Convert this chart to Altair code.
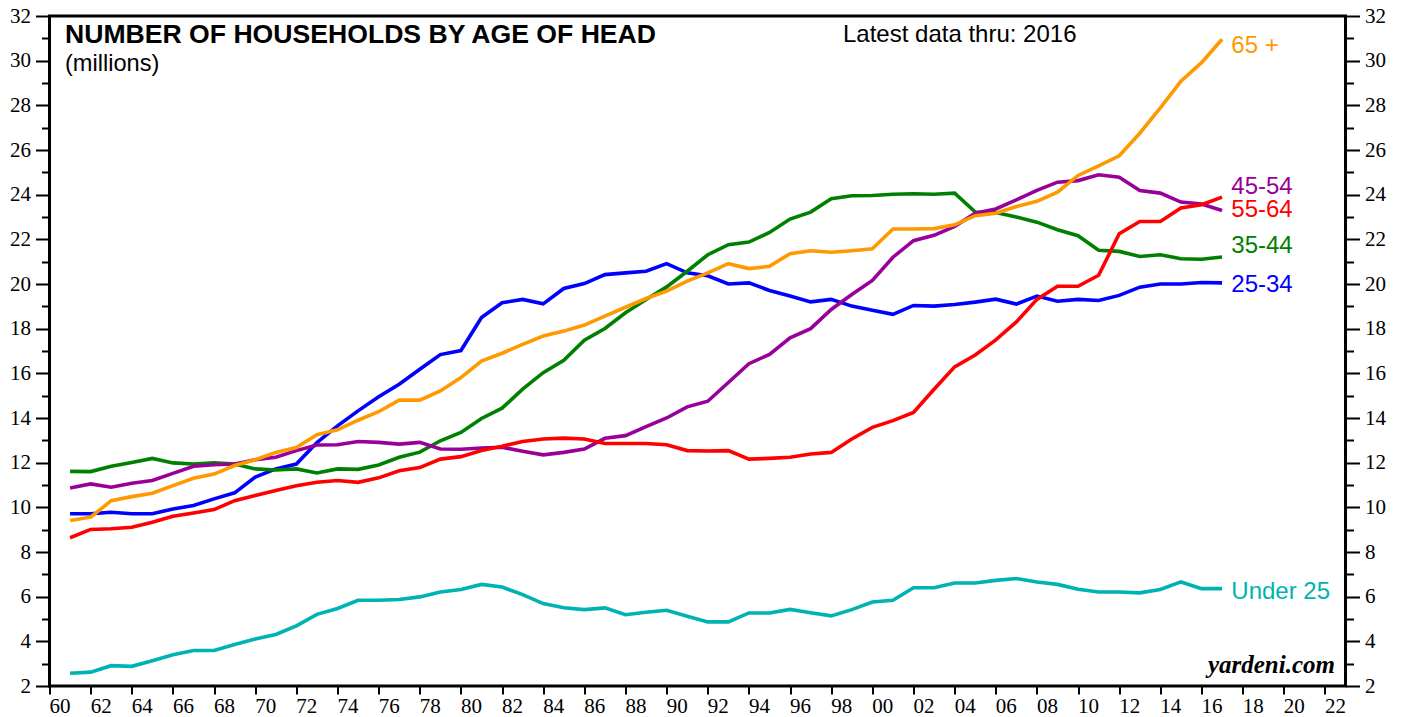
import altair as alt
import pandas as pd

years = list(range(1960, 2017))

under_25 = [2.57, 2.62, 2.91, 2.88, 3.13, 3.40, 3.59, 3.59, 3.86, 4.10,
            4.31, 4.69, 5.21, 5.47, 5.84, 5.84, 5.87, 5.99, 6.21, 6.32,
            6.55, 6.43, 6.09, 5.69, 5.50, 5.42, 5.50, 5.19, 5.30, 5.39,
            5.12, 4.87, 4.87, 5.27, 5.27, 5.43, 5.28, 5.14, 5.42, 5.76,
            5.84, 6.40, 6.40, 6.61, 6.61, 6.73, 6.81, 6.66, 6.55, 6.33,
            6.21, 6.21, 6.17, 6.32, 6.66, 6.36, 6.36]
age_25_34 = [9.71, 9.71, 9.78, 9.71, 9.71, 9.93, 10.08, 10.38, 10.65, 11.35,
             11.72, 11.94, 12.90, 13.65, 14.32, 14.95, 15.51, 16.18, 16.84, 17.02,
             18.50, 19.16, 19.31, 19.11, 19.80, 20.02, 20.42, 20.50, 20.57, 20.91,
             20.50, 20.37, 20.00, 20.05, 19.71, 19.46, 19.20, 19.31, 19.01, 18.82,
             18.64, 19.04, 19.01, 19.08, 19.19, 19.32, 19.10, 19.46, 19.23, 19.31,
             19.26, 19.49, 19.86, 20.00, 20.00, 20.07, 20.05]
age_35_44 = [11.61, 11.60, 11.84, 12.01, 12.19, 11.99, 11.94, 11.99, 11.94, 11.72,
             11.67, 11.72, 11.54, 11.72, 11.70, 11.90, 12.24, 12.47, 12.98, 13.35,
             13.98, 14.44, 15.29, 16.03, 16.58, 17.48, 18.01, 18.71, 19.31, 19.87,
             20.57, 21.31, 21.76, 21.88, 22.31, 22.91, 23.22, 23.82, 23.95, 23.96,
             24.02, 24.04, 24.02, 24.07, 23.22, 23.20, 23.00, 22.77, 22.43, 22.16,
             21.51, 21.46, 21.23, 21.31, 21.13, 21.11, 21.21]
age_45_54 = [10.87, 11.05, 10.90, 11.08, 11.20, 11.52, 11.84, 11.91, 11.94, 12.13,
             12.24, 12.54, 12.79, 12.80, 12.95, 12.91, 12.83, 12.91, 12.61, 12.60,
             12.66, 12.69, 12.51, 12.35, 12.46, 12.61, 13.09, 13.21, 13.61, 14.00,
             14.50, 14.75, 15.59, 16.43, 16.85, 17.59, 18.00, 18.86, 19.53, 20.16,
             21.20, 21.94, 22.18, 22.58, 23.17, 23.36, 23.77, 24.19, 24.56, 24.63,
             24.89, 24.78, 24.19, 24.07, 23.67, 23.58, 23.29]
age_55_64 = [8.64, 9.01, 9.04, 9.11, 9.33, 9.60, 9.75, 9.90, 10.30, 10.53,
             10.75, 10.97, 11.12, 11.20, 11.12, 11.32, 11.64, 11.78, 12.16, 12.27,
             12.54, 12.73, 12.95, 13.06, 13.10, 13.06, 12.86, 12.86, 12.86, 12.80,
             12.54, 12.52, 12.54, 12.16, 12.19, 12.24, 12.39, 12.46, 13.06, 13.58,
             13.88, 14.25, 15.29, 16.29, 16.82, 17.50, 18.30, 19.31, 19.90, 19.90,
             20.39, 22.25, 22.80, 22.80, 23.40, 23.55, 23.89]
age_65_plus = [9.41, 9.56, 10.30, 10.48, 10.63, 10.97, 11.30, 11.49, 11.87, 12.13,
               12.46, 12.68, 13.25, 13.47, 13.90, 14.28, 14.80, 14.80, 15.21, 15.81,
               16.55, 16.90, 17.30, 17.67, 17.89, 18.16, 18.56, 18.96, 19.35, 19.68,
               20.13, 20.50, 20.91, 20.69, 20.79, 21.36, 21.49, 21.42, 21.49, 21.58,
               22.46, 22.46, 22.48, 22.65, 23.06, 23.17, 23.47, 23.70, 24.11, 24.86,
               25.29, 25.74, 26.75, 27.89, 29.08, 29.91, 30.96]

series_names = ["Under 25", "25-34", "35-44", "45-54", "55-64", "65 +"]
series_values = [under_25, age_25_34, age_35_44, age_45_54, age_55_64, age_65_plus]
series_colors = ["#00B3B3", "#0000FF", "#008000", "#990099", "#FF0000", "#FF9900"]
label_y = [6.2, 19.95, 21.69, 24.33, 23.3, 30.66]
label_x = [2017.45] * 6

title_text = ["NUMBER OF HOUSEHOLDS BY AGE OF HEAD"]
unit_text = ["(millions)"]
latest_text = ["Latest data thru: 2016"]
source_text = ["yardeni.com"]

rows = []
for name, vals in zip(series_names, series_values):
    for yr, v in zip(years, vals):
        rows.append({"series": name, "pos": yr + 1, "value": v})
df = pd.DataFrame(rows)
lab_df = pd.DataFrame({"series": series_names, "lx": label_x, "ly": label_y})

x_scale = alt.Scale(domain=[1960, 2023], nice=False, zero=False)
y_scale = alt.Scale(domain=[2, 32], nice=False, zero=False)
color_scale = alt.Scale(domain=series_names, range=series_colors)

x_axis = alt.Axis(
    values=list(range(1960, 2024)),
    labelExpr="datum.value % 2 == 0 && datum.value < 2023 ? format(datum.value % 100, '02d') : ''",
    tickSize=8, labelOffset=10, labelPadding=1, labelFlush=False,
    labelOverlap=False, labelBound=False, grid=False, domain=False,
    title=None, labelAngle=0,
)
tick_cond = {"condition": {"test": "datum.value % 2 == 0", "value": 14}, "value": 8}
left_axis = alt.Axis(
    orient="left", values=list(range(2, 33)),
    labelExpr="datum.value % 2 == 0 ? datum.value : ''",
    tickSize=tick_cond, labelPadding=5, grid=False, domain=False,
    title=None, labelOverlap=False, labelFlush=False, labelBound=False,
)
right_axis = alt.Axis(
    orient="right", values=list(range(2, 33)),
    labelExpr="datum.value % 2 == 0 ? datum.value : ''",
    tickSize=tick_cond, labelPadding=5, grid=False, domain=False,
    title=None, labelOverlap=False, labelFlush=False, labelBound=False,
)

lines = alt.Chart(df).mark_line(strokeWidth=3.6).encode(
    x=alt.X("pos:Q", scale=x_scale, axis=x_axis),
    y=alt.Y("value:Q", scale=y_scale, axis=left_axis),
    color=alt.Color("series:N", scale=color_scale, legend=None),
)

right = alt.Chart(df).mark_line(opacity=0).encode(
    x=alt.X("pos:Q", scale=x_scale),
    y=alt.Y("value:Q", scale=y_scale, axis=right_axis),
    detail="series:N",
)

labels = alt.Chart(lab_df).mark_text(
    align="left", baseline="middle", font="Liberation Sans", fontSize=24
).encode(
    x=alt.X("lx:Q", scale=x_scale),
    y=alt.Y("ly:Q", scale=y_scale, axis=None),
    text="series:N",
    color=alt.Color("series:N", scale=color_scale, legend=None),
)

title = alt.Chart(pd.DataFrame({"t": title_text})).mark_text(
    align="left", baseline="middle", font="Liberation Sans", fontWeight="bold",
    fontSize=26.6, color="black", x=15.5, y=19,
).encode(text="t:N")

units = alt.Chart(pd.DataFrame({"t": unit_text})).mark_text(
    align="left", baseline="middle", font="Liberation Sans",
    fontSize=23.6, color="black", x=15.5, y=48,
).encode(text="t:N")

latest = alt.Chart(pd.DataFrame({"t": latest_text})).mark_text(
    align="left", baseline="middle", font="Liberation Sans",
    fontSize=24, color="black", x=793.5, y=19,
).encode(text="t:N")

source = alt.Chart(pd.DataFrame({"t": source_text})).mark_text(
    align="right", baseline="alphabetic", font="Liberation Serif",
    fontStyle="italic", fontWeight="bold", fontSize=25, color="black",
    x=1285.5, y=657,
).encode(text="t:N")

chart = alt.layer(lines, right, labels, title, units, latest, source).resolve_scale(
    y="independent"
).properties(
    width=1296, height=670,
    autosize=alt.AutoSizeParams(type="none"),
    padding={"left": 41.5, "top": 8, "right": 50, "bottom": 30},
    background="white",
).configure_view(
    fill="#FFFFE6", stroke="black", strokeWidth=3
).configure_axis(
    labelFont="Liberation Serif", labelFontSize=21, labelColor="black",
    tickColor="black", tickWidth=2,
)

chart.save("out.html", embed_options={"renderer": "svg", "actions": False})
